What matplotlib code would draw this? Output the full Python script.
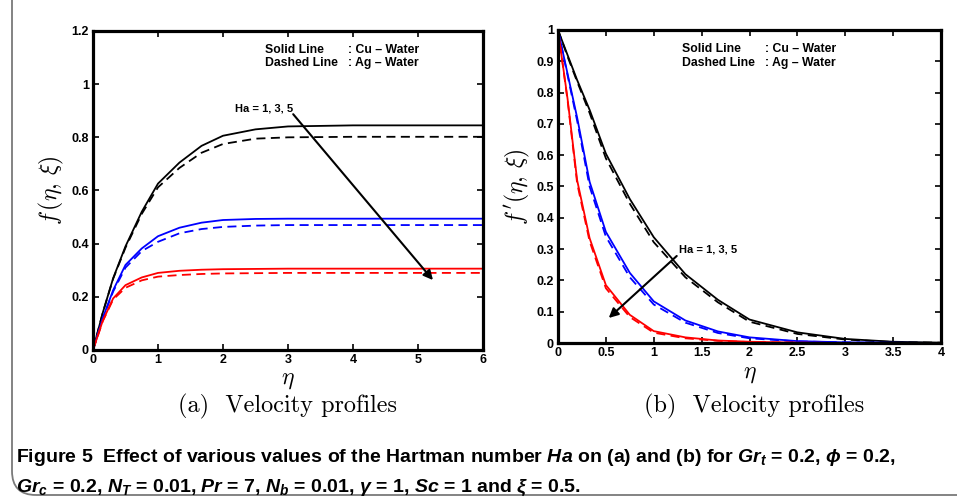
import matplotlib
matplotlib.use("Agg")
import matplotlib.pyplot as plt
from matplotlib import font_manager
from matplotlib.patches import FancyBboxPatch
from matplotlib.ticker import FormatStrFormatter, MultipleLocator

# ---- data: (a) f(eta, xi) ----
eta_a = [0, 0.15, 0.31, 0.5, 0.75, 1.0, 1.33, 1.67, 2.0, 2.5, 3.0, 4.0, 5.0, 6.0]
f_cu_ha1 = [0, 0.14, 0.27, 0.39, 0.52, 0.626, 0.705, 0.768, 0.806, 0.83, 0.841, 0.845, 0.845, 0.845]
f_ag_ha1 = [0, 0.14, 0.268, 0.385, 0.512, 0.612, 0.685, 0.742, 0.775, 0.795, 0.80, 0.802, 0.802, 0.802]
f_cu_ha3 = [0, 0.12, 0.225, 0.32, 0.382, 0.428, 0.46, 0.479, 0.489, 0.493, 0.494, 0.494, 0.494, 0.494]
f_ag_ha3 = [0, 0.118, 0.22, 0.31, 0.372, 0.407, 0.439, 0.455, 0.463, 0.468, 0.47, 0.47, 0.47, 0.47]
f_cu_ha5 = [0, 0.11, 0.194, 0.244, 0.273, 0.29, 0.298, 0.302, 0.304, 0.305, 0.306, 0.306, 0.306, 0.306]
f_ag_ha5 = [0, 0.108, 0.19, 0.234, 0.262, 0.276, 0.282, 0.286, 0.288, 0.289, 0.29, 0.29, 0.29, 0.29]

# ---- data: (b) f'(eta, xi) ----
eta_b = [0, 0.1, 0.2, 0.33, 0.5, 0.75, 1.0, 1.33, 1.67, 2.0, 2.5, 3.0, 3.5, 4.0]
fp_cu_ha1 = [1.0, 0.92, 0.84, 0.745, 0.605, 0.46, 0.338, 0.22, 0.138, 0.075, 0.034, 0.013, 0.004, 0.001]
fp_ag_ha1 = [1.0, 0.915, 0.835, 0.735, 0.59, 0.445, 0.322, 0.21, 0.13, 0.068, 0.029, 0.011, 0.003, 0.001]
fp_cu_ha3 = [1.0, 0.86, 0.72, 0.515, 0.355, 0.224, 0.133, 0.072, 0.037, 0.018, 0.006, 0.002, 0.001, 0.0]
fp_ag_ha3 = [1.0, 0.855, 0.71, 0.50, 0.34, 0.21, 0.123, 0.065, 0.032, 0.015, 0.005, 0.002, 0.0, 0.0]
fp_cu_ha5 = [1.0, 0.78, 0.52, 0.335, 0.185, 0.09, 0.038, 0.018, 0.008, 0.004, 0.001, 0.0, 0.0, 0.0]
fp_ag_ha5 = [1.0, 0.775, 0.51, 0.325, 0.175, 0.083, 0.033, 0.015, 0.007, 0.003, 0.001, 0.0, 0.0, 0.0]

legend_lines = [("Solid Line", ": Cu \u2013 Water"), ("Dashed Line", ": Ag \u2013 Water")]
ha_label = "Ha = 1, 3, 5"

installed = {f.name for f in font_manager.fontManager.ttflist}
narrow = "Liberation Sans Narrow" if "Liberation Sans Narrow" in installed else "Liberation Sans"

plt.rcParams["mathtext.fontset"] = "custom"
plt.rcParams["mathtext.rm"] = f"{narrow}:bold"
plt.rcParams["mathtext.it"] = f"{narrow}:italic:bold"
plt.rcParams["mathtext.bf"] = f"{narrow}:bold"
plt.rcParams["font.family"] = ["Liberation Sans", "DejaVu Sans"]

W, H = 957, 504
fig = plt.figure(figsize=(W / 100, H / 100), dpi=100)

# rounded frame around the figure panel
frame = FancyBboxPatch((12 / W, 9 / H), 2.0, 2.0,
                       boxstyle="round,pad=0,rounding_size=0.025",
                       transform=fig.transFigure, fill=False,
                       edgecolor="#7a7a7a", linewidth=1.3,
                       mutation_aspect=W / H)
fig.patches.append(frame)

ax_a = fig.add_axes([93 / W, 1 - 350 / H, 390 / W, 319 / H])
ax_b = fig.add_axes([558 / W, 1 - 343 / H, 383 / W, 313 / H])

sty = dict(lw=1.3)
dash = (0, (5, 3))
ax_a.plot(eta_a, f_cu_ha1, color="black", **sty)
ax_a.plot(eta_a, f_ag_ha1, color="black", ls=dash, **sty)
ax_a.plot(eta_a, f_cu_ha3, color="blue", **sty)
ax_a.plot(eta_a, f_ag_ha3, color="blue", ls=dash, **sty)
ax_a.plot(eta_a, f_cu_ha5, color="red", **sty)
ax_a.plot(eta_a, f_ag_ha5, color="red", ls=dash, **sty)

ax_b.plot(eta_b, fp_cu_ha1, color="black", **sty)
ax_b.plot(eta_b, fp_ag_ha1, color="black", ls=dash, **sty)
ax_b.plot(eta_b, fp_cu_ha3, color="blue", **sty)
ax_b.plot(eta_b, fp_ag_ha3, color="blue", ls=dash, **sty)
ax_b.plot(eta_b, fp_cu_ha5, color="red", **sty)
ax_b.plot(eta_b, fp_ag_ha5, color="red", ls=dash, **sty)

ax_a.set_xlim(0, 6)
ax_a.set_ylim(0, 1.2)
ax_a.xaxis.set_major_locator(MultipleLocator(1))
ax_a.yaxis.set_major_locator(MultipleLocator(0.2))
ax_b.set_xlim(0, 4)
ax_b.set_ylim(0, 1)
ax_b.xaxis.set_major_locator(MultipleLocator(0.5))
ax_b.yaxis.set_major_locator(MultipleLocator(0.1))

for ax in (ax_a, ax_b):
    ax.xaxis.set_major_formatter(FormatStrFormatter("%g"))
    ax.yaxis.set_major_formatter(FormatStrFormatter("%g"))
    ax.tick_params(direction="in", top=True, right=True, length=4, width=1.2,
                   labelsize=9, pad=3)
    for lab in ax.get_xticklabels() + ax.get_yticklabels():
        lab.set_fontweight("bold")
    for sp in ax.spines.values():
        sp.set_linewidth(2.3)

# axis labels in Computer Modern
ax_a.set_ylabel(r"$f\,(\eta,\,\xi)$", fontsize=17, math_fontfamily="cm", labelpad=4)
ax_b.set_ylabel(r"$f\,'(\eta,\,\xi)$", fontsize=17, math_fontfamily="cm", labelpad=3)
ax_a.set_xlabel(r"$\eta$", fontsize=17, math_fontfamily="cm", labelpad=2)
ax_b.set_xlabel(r"$\eta$", fontsize=17, math_fontfamily="cm", labelpad=3)

fig.text(288 / W, 1 - 406 / H, "(a)  Velocity profiles", family="cmr10",
         fontsize=17.5, ha="center", va="center")
fig.text(754 / W, 1 - 406 / H, "(b)  Velocity profiles", family="cmr10",
         fontsize=17.5, ha="center", va="center")

# line-style key
for ax, x0, xc, ys in ((ax_a, 2.65, 3.92, (1.13, 1.078)),
                       (ax_b, 1.29, 2.16, (0.94, 0.895))):
    for (k, v), y in zip(legend_lines, ys):
        ax.text(x0, y, k, fontsize=8.8, fontweight="bold", va="center")
        ax.text(xc, y, v, fontsize=8.8, fontweight="bold", va="center")

# Hartman number arrows
ax_a.text(2.18, 0.91, ha_label, fontsize=8, fontweight="bold", va="center")
ax_a.annotate("", xy=(5.23, 0.263), xytext=(3.08, 0.887),
              arrowprops=dict(arrowstyle="-|>", lw=1.5, color="black",
                              mutation_scale=14, shrinkA=0, shrinkB=0))
ax_b.text(1.26, 0.298, ha_label, fontsize=8, fontweight="bold", va="center")
ax_b.annotate("", xy=(0.53, 0.08), xytext=(1.24, 0.278),
              arrowprops=dict(arrowstyle="-|>", lw=1.5, color="black",
                              mutation_scale=14, shrinkA=0, shrinkB=0))

cap1 = (r"Figure 5  Effect of various values of the Hartman number $Ha$ on (a) and (b) "
        r"for $Gr_t$ = 0.2, $\phi$ = 0.2,")
cap2 = (r"$Gr_c$ = 0.2, $N_T$ = 0.01, $Pr$ = 7, $N_b$ = 0.01, $\gamma$ = 1, "
        r"$Sc$ = 1 and $\xi$ = 0.5.")
fig.text(16 / W, 1 - 458 / H, cap1, family=[narrow, "DejaVu Sans"],
         fontweight="bold", fontsize=14, va="center")
fig.text(16 / W, 1 - 488 / H, cap2, family=[narrow, "DejaVu Sans"],
         fontweight="bold", fontsize=14, va="center")

fig.savefig("out.png", dpi=100)
